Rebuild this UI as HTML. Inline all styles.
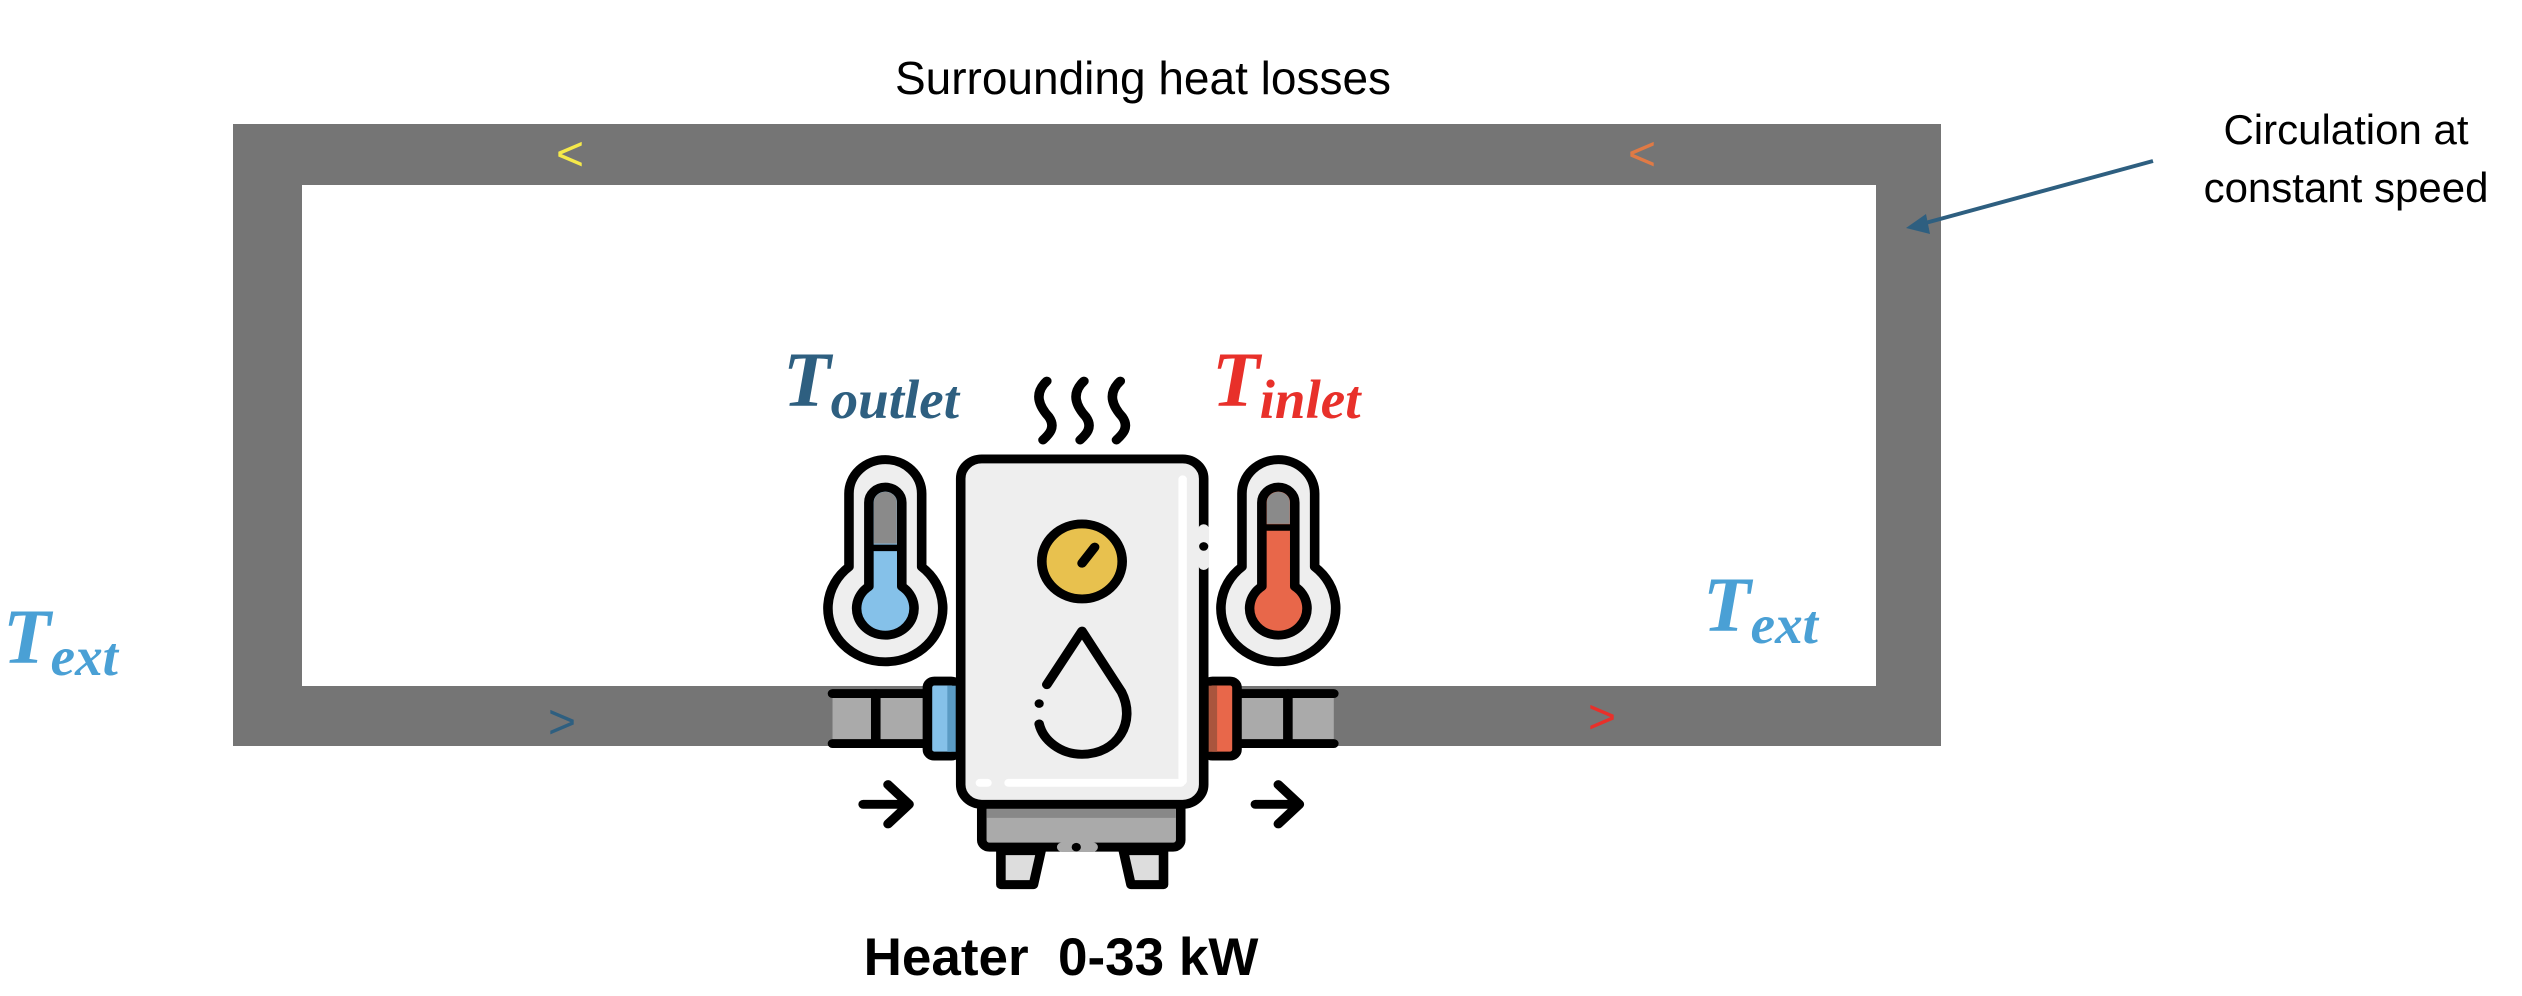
<!DOCTYPE html>
<html><head><meta charset="utf-8"><style>
html,body{margin:0;padding:0;background:#fff}
body{width:2522px;height:996px;position:relative;overflow:hidden;font-family:"Liberation Sans",sans-serif}
.t{position:absolute;white-space:nowrap;line-height:1}
.m{font-family:"Liberation Serif",serif;font-style:italic;font-weight:bold}
.m span{font-size:55px;position:relative;top:12px}
</style></head><body>
<svg width="2522" height="996" style="position:absolute;left:0;top:0">
  <path d="M233 124 H1941 V746 H233 Z M302 185 V686 H1876 V185 Z" fill="#757575" fill-rule="evenodd"/>
  <g stroke="#2e5f80" stroke-width="4" fill="#2e5f80">
    <line x1="2153" y1="161" x2="1918" y2="225"/>
    <polygon points="1906,228 1926,214 1930,234" stroke="none"/>
  </g>
  <text x="570" y="170" font-size="48" fill="#f5e94a" text-anchor="middle" font-family="Liberation Sans">&lt;</text>
  <text x="1642" y="170" font-size="48" fill="#e07a45" text-anchor="middle" font-family="Liberation Sans">&lt;</text>
  <text x="562" y="738" font-size="48" fill="#2e5f80" text-anchor="middle" font-family="Liberation Sans">&gt;</text>
  <text x="1602" y="733" font-size="48" fill="#e8302a" text-anchor="middle" font-family="Liberation Sans">&gt;</text>
</svg>
<svg viewBox="0 0 1568 1568" preserveAspectRatio="none" style="position:absolute;left:800px;top:340px;width:600px;height:560px" stroke-linecap="round" stroke-linejoin="round">
  <g fill="none" stroke="#000" stroke-width="25">
    <path d="M645 115 C610 150,625 185,650 215 C670 245,650 265,635 280"/>
    <path d="M742 115 C707 150,722 185,747 215 C767 245,747 265,732 280"/>
    <path d="M837 115 C802 150,817 185,842 215 C862 245,842 265,827 280"/>
  </g>
  <rect x="85" y="990" width="250" height="140" fill="#aaa"/>
  <g stroke="#000" stroke-width="25"><line x1="85" y1="990" x2="333" y2="990"/><line x1="85" y1="1130" x2="333" y2="1130"/><line x1="198" y1="990" x2="198" y2="1130"/></g>
  <rect x="1140" y="990" width="255" height="140" fill="#aaa"/>
  <g stroke="#000" stroke-width="25"><line x1="1140" y1="990" x2="1395" y2="990"/><line x1="1140" y1="1130" x2="1395" y2="1130"/><line x1="1275" y1="990" x2="1275" y2="1130"/></g>
  <rect x="333" y="955" width="80" height="210" rx="18" fill="#85c1e9" stroke="#000" stroke-width="25"/>
  <rect x="385" y="968" width="22" height="185" fill="#5a9bc4"/>
  <rect x="1060" y="955" width="82" height="210" rx="18" fill="#e8674a" stroke="#000" stroke-width="25"/>
  <rect x="1068" y="968" width="22" height="185" fill="#a9553d"/>
  <path d="M525 1430 L630 1430 L610 1525 L525 1525 Z" fill="#ddd" stroke="#000" stroke-width="25"/>
  <path d="M845 1430 L950 1430 L950 1525 L865 1525 Z" fill="#ddd" stroke="#000" stroke-width="25"/>
  <rect x="475" y="1295" width="520" height="125" rx="20" fill="#aaa" stroke="#000" stroke-width="25"/>
  <rect x="488" y="1308" width="494" height="30" fill="#888"/>
  <line x1="685" y1="1420" x2="765" y2="1420" stroke="#aaa" stroke-width="27"/>
  <circle cx="722" cy="1420" r="12" fill="#000"/>
  <rect x="420" y="333" width="635" height="967" rx="55" fill="#eee" stroke="#000" stroke-width="25"/>
  <line x1="1055" y1="530" x2="1055" y2="630" stroke="#eee" stroke-width="28"/>
  <circle cx="1055" cy="578" r="12" fill="#000"/>
  <g stroke="#fff" stroke-width="22"><line x1="1000" y1="390" x2="1000" y2="1235"/><line x1="545" y1="1240" x2="995" y2="1240"/><line x1="470" y1="1240" x2="490" y2="1240"/></g>
  <circle cx="737" cy="620" r="105" fill="#e8c14e" stroke="#000" stroke-width="25"/>
  <line x1="737" y1="625" x2="770" y2="580" stroke="#000" stroke-width="25" stroke-linecap="round"/>
  <path d="M645 965 L737 815 L840 985 C880 1070,830 1160,737 1160 C680 1160,635 1120,625 1075" fill="none" stroke="#000" stroke-width="25" stroke-linecap="round"/>
  <circle cx="625" cy="1018" r="12" fill="#000"/>
  <g>
    <path d="M128 635 V430 A95 95 0 0 1 318 430 V635 A150 150 0 1 1 128 635 Z" fill="#eee" stroke="#000" stroke-width="25"/>
    <path d="M180 690 V455 A43 43 0 0 1 266 455 V690 A75 75 0 1 1 180 690 Z" fill="#85c1e9" stroke="#000" stroke-width="25"/>
    <path d="M193 570 V455 A30 30 0 0 1 253 455 V570 Z" fill="#8a8a8a"/>
    <line x1="193" y1="582" x2="253" y2="582" stroke="#000" stroke-width="18"/>
  </g>
  <g>
    <path d="M1155 635 V430 A95 95 0 0 1 1345 430 V635 A150 150 0 1 1 1155 635 Z" fill="#eee" stroke="#000" stroke-width="25"/>
    <path d="M1207 690 V455 A43 43 0 0 1 1293 455 V690 A75 75 0 1 1 1207 690 Z" fill="#e8674a" stroke="#000" stroke-width="25"/>
    <path d="M1220 515 V455 A30 30 0 0 1 1280 455 V515 Z" fill="#8a8a8a"/>
    <line x1="1220" y1="525" x2="1280" y2="525" stroke="#000" stroke-width="18"/>
  </g>
  <g fill="none" stroke="#000" stroke-width="25">
    <path d="M165 1300 H285 M230 1245 L285 1300 L230 1355"/>
    <path d="M1190 1300 H1305 M1250 1245 L1305 1300 L1250 1355"/>
  </g>
</svg>
<div class="t" style="left:1143px;top:55px;transform:translateX(-50%);font-size:46px;color:#000">Surrounding heat losses</div>
<div class="t" style="left:2346px;top:101px;transform:translateX(-50%);font-size:42px;line-height:58px;text-align:center;color:#000">Circulation at<br>constant speed</div>
<div class="t m" style="left:3px;top:598px;font-size:78px;color:#4aa0d5">T<span>ext</span></div>
<div class="t m" style="left:1703px;top:566px;font-size:78px;color:#4aa0d5">T<span>ext</span></div>
<div class="t m" style="left:783px;top:341px;font-size:78px;color:#2e5f80">T<span>outlet</span></div>
<div class="t m" style="left:1212px;top:341px;font-size:78px;color:#e8302a">T<span>inlet</span></div>
<div class="t" style="left:1061px;top:931px;transform:translateX(-50%);font-size:53px;font-weight:bold;color:#000">Heater&nbsp; 0-33 kW</div>
</body></html>
